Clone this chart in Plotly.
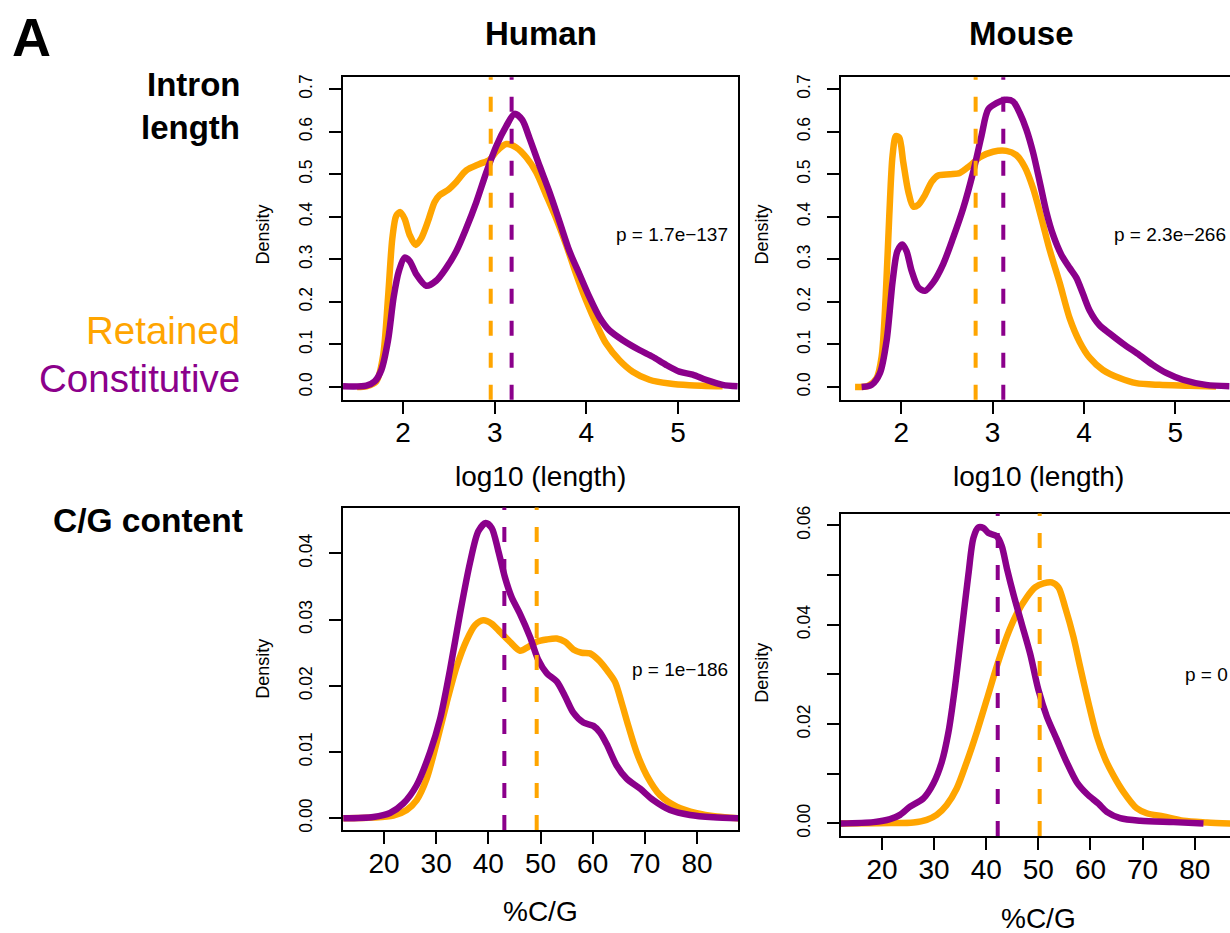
import plotly.graph_objects as go

W, H = 1230, 933
ORANGE = "#FFA500"
PURPLE = "#8B008B"
FONT = "Liberation Sans, Arial, Helvetica, sans-serif"

# ---------------- data ----------------
# Human, intron length (log10)
hl_ret_x = [1.50, 1.60, 1.709, 1.782, 1.837, 1.884, 1.927, 1.971, 2.018, 2.073, 2.138, 2.200, 2.272, 2.345, 2.400,
            2.490, 2.581, 2.690, 2.835, 2.944, 3.017, 3.126, 3.235, 3.344, 3.453, 3.562, 3.671, 3.780, 3.889,
            3.998, 4.107, 4.216, 4.361, 4.506, 4.688, 4.906, 5.124, 5.487]
hl_ret_y = [0.0, 0.0015, 0.013, 0.072, 0.211, 0.350, 0.403, 0.411, 0.395, 0.357, 0.334, 0.350, 0.389, 0.435, 0.451,
            0.463, 0.482, 0.509, 0.524, 0.534, 0.553, 0.571, 0.563, 0.540, 0.505, 0.451, 0.396, 0.334, 0.265,
            0.203, 0.149, 0.102, 0.063, 0.036, 0.017, 0.008, 0.004, 0.0015]
hl_con_x = [1.346, 1.600, 1.691, 1.764, 1.837, 1.898, 1.956, 2.018, 2.073, 2.145, 2.254, 2.363, 2.472, 2.581, 2.690,
            2.799, 2.908, 3.017, 3.126, 3.217, 3.300, 3.380, 3.489, 3.598, 3.707, 3.816, 3.925, 4.034, 4.143,
            4.252, 4.398, 4.579, 4.724, 4.869, 5.015, 5.160, 5.305, 5.487, 5.650]
hl_con_y = [0.0015, 0.003, 0.013, 0.040, 0.110, 0.211, 0.273, 0.304, 0.296, 0.265, 0.238, 0.250, 0.280, 0.319, 0.373,
            0.434, 0.504, 0.566, 0.613, 0.642, 0.628, 0.585, 0.520, 0.458, 0.389, 0.319, 0.265, 0.211, 0.164,
            0.133, 0.110, 0.087, 0.071, 0.052, 0.036, 0.029, 0.017, 0.005, 0.0015]
hl_ret_med, hl_con_med = 2.957, 3.185

# Mouse, intron length (log10)
ml_ret_x = [1.494, 1.639, 1.730, 1.785, 1.829, 1.869, 1.905, 1.942, 1.978, 2.022, 2.077, 2.131, 2.186, 2.259, 2.332,
            2.404, 2.532, 2.641, 2.750, 2.860, 3.005, 3.151, 3.260, 3.352, 3.443, 3.534, 3.625, 3.734, 3.843,
            3.953, 4.062, 4.208, 4.390, 4.572, 4.827, 5.155, 5.446]
ml_ret_y = [0.0, 0.003, 0.021, 0.071, 0.211, 0.405, 0.545, 0.590, 0.586, 0.528, 0.459, 0.424, 0.428, 0.451, 0.482,
            0.497, 0.500, 0.503, 0.520, 0.540, 0.553, 0.555, 0.545, 0.517, 0.467, 0.397, 0.322, 0.245, 0.162,
            0.106, 0.069, 0.040, 0.021, 0.009, 0.005, 0.003, 0.001]
ml_con_x = [1.566, 1.675, 1.767, 1.840, 1.906, 1.957, 2.011, 2.058, 2.113, 2.186, 2.259, 2.350, 2.459, 2.568, 2.678,
            2.787, 2.878, 2.951, 3.042, 3.151, 3.224, 3.297, 3.370, 3.443, 3.516, 3.588, 3.661, 3.752, 3.843,
            3.916, 3.989, 4.062, 4.171, 4.280, 4.426, 4.608, 4.754, 4.900, 5.082, 5.337, 5.592]
ml_con_y = [0.0, 0.005, 0.033, 0.110, 0.250, 0.319, 0.335, 0.319, 0.273, 0.234, 0.226, 0.246, 0.289, 0.351, 0.420,
            0.505, 0.590, 0.652, 0.667, 0.675, 0.671, 0.644, 0.605, 0.551, 0.482, 0.412, 0.358, 0.311, 0.280,
            0.257, 0.219, 0.180, 0.145, 0.126, 0.102, 0.075, 0.052, 0.033, 0.017, 0.005, 0.002]
ml_ret_med, ml_con_med = 2.814, 3.117

# Human, %C/G
hg_ret_x = [12.20, 17.96, 21.79, 24.35, 26.26, 28.18, 30.10, 32.01, 33.93, 35.85, 37.44, 39.04, 40.64, 42.24, 44.15,
            46.07, 47.67, 49.27, 51.18, 53.10, 54.70, 56.29, 57.89, 59.49, 61.09, 62.68, 64.28, 65.56, 66.84,
            68.43, 70.35, 72.91, 76.10, 79.94, 83.77, 87.92]
hg_ret_y = [0.0, 0.0001, 0.0004, 0.00125, 0.00274, 0.00598, 0.01146, 0.01743, 0.02291, 0.0269, 0.02914, 0.02989,
            0.02939, 0.02814, 0.02665, 0.0253, 0.0259, 0.02665, 0.0270, 0.02715, 0.02665, 0.0255, 0.0250, 0.0249,
            0.02391, 0.02242, 0.02060, 0.01743, 0.01395, 0.00996, 0.00648, 0.00349, 0.00174, 0.00075, 0.00025, 0.0]
hg_con_x = [12.20, 17.96, 21.15, 23.71, 26.26, 28.82, 30.73, 32.65, 34.57, 36.49, 38.08, 39.49, 40.64, 41.92, 43.19,
            44.47, 46.07, 47.99, 49.58, 51.18, 53.10, 54.70, 56.29, 58.21, 60.13, 61.41, 62.68, 64.60, 66.52,
            69.07, 71.63, 74.82, 78.66, 83.13, 87.92]
hg_con_y = [0.0, 0.0002, 0.0008, 0.00224, 0.00498, 0.00996, 0.01494, 0.02242, 0.0309, 0.03861, 0.04334, 0.04458,
            0.04384, 0.04035, 0.03636, 0.03337, 0.03088, 0.0274, 0.02391, 0.02192, 0.02067, 0.01843, 0.01594,
            0.01445, 0.01395, 0.01295, 0.0112, 0.00797, 0.00598, 0.00448, 0.00274, 0.00125, 0.0005, 0.00015, 0.0]
hg_ret_med, hg_con_med = 49.27, 43.07

# Mouse, %C/G
mg_ret_x = [12.07, 21.54, 26.02, 28.58, 30.50, 32.41, 34.33, 36.25, 38.17, 40.09, 42.01, 43.93, 45.85, 47.77, 49.37,
            50.97, 52.57, 53.85, 55.13, 56.72, 58.00, 59.60, 61.20, 62.80, 64.40, 66.32, 68.88, 70.80, 74.00,
            77.84, 82.32, 86.80]
mg_ret_y = [0.0, 0.00007, 0.0002, 0.00073, 0.00173, 0.00372, 0.00704, 0.01235, 0.01832, 0.0249, 0.03159, 0.03757,
            0.04221, 0.04553, 0.04752, 0.04832, 0.04852, 0.04752, 0.04354, 0.03757, 0.03159, 0.02429, 0.01766,
            0.01301, 0.00969, 0.00637, 0.00305, 0.00205, 0.00139, 0.00053, 0.0002, 0.0]
mg_con_x = [12.07, 18.34, 21.54, 23.46, 25.38, 27.94, 29.86, 31.46, 32.74, 34.02, 35.30, 36.58, 37.54, 38.50, 39.46,
            40.42, 42.02, 42.98, 43.94, 45.22, 46.82, 48.42, 50.01, 51.61, 53.53, 55.45, 57.37, 59.29, 61.53,
            63.13, 65.69, 69.53, 75.93, 81.68]
mg_con_y = [0.0, 0.00027, 0.00086, 0.00173, 0.00338, 0.00504, 0.00803, 0.01234, 0.01832, 0.02761, 0.03889, 0.05018,
            0.05749, 0.0596, 0.05947, 0.05847, 0.05781, 0.05582, 0.05144, 0.04613, 0.04015, 0.03418, 0.02688,
            0.02157, 0.01692, 0.01228, 0.0083, 0.00597, 0.00398, 0.00232, 0.00106, 0.00053, 0.00027, 0.0]
mg_ret_med, mg_con_med = 50.25, 42.2

p_values = ["p = 1.7e\u2212137", "p = 2.3e\u2212266", "p = 1e\u2212186", "p = 0"]
col_titles = ["Human", "Mouse"]
x_titles = ["log10 (length)", "log10 (length)", "%C/G", "%C/G"]
len_ticks = [2, 3, 4, 5]
gc_ticks = [20, 30, 40, 50, 60, 70, 80]
len_yticks = [0.0, 0.1, 0.2, 0.3, 0.4, 0.5, 0.6, 0.7]
hg_yticks = [0.0, 0.01, 0.02, 0.03, 0.04]
mg_yticks = [0.0, 0.01, 0.02, 0.03, 0.04, 0.05, 0.06]
mg_ytext = ["0.00", "", "0.02", "", "0.04", "", "0.06"]

# ---------------- layout helpers ----------------
def px_x(p):
    return p / W

def px_y(p):
    return 1 - p / H

panels = [
    # (suffix, x-domain px, y-domain px, xrange, yrange, mirror_y)
    ("", (343, 738), (70, 396), [1.3455, 5.6545], [-0.030, 0.728], True),
    ("2", (841, 1230), (70, 396), [1.340, 5.599], [-0.030, 0.728], False),
    ("3", (343, 738), (505, 831), [12.14, 87.86], [-0.00179, 0.04692], True),
    ("4", (841, 1230), (511, 837), [12.13, 86.77], [-0.00253, 0.06239], False),
]
series = [
    (hl_ret_x, hl_ret_y, hl_con_x, hl_con_y, hl_ret_med, hl_con_med),
    (ml_ret_x, ml_ret_y, ml_con_x, ml_con_y, ml_ret_med, ml_con_med),
    (hg_ret_x, hg_ret_y, hg_con_x, hg_con_y, hg_ret_med, hg_con_med),
    (mg_ret_x, mg_ret_y, mg_con_x, mg_con_y, mg_ret_med, mg_con_med),
]

fig = go.Figure()
layout = dict(width=W, height=H, autosize=False, margin=dict(l=0, r=0, t=0, b=0),
              paper_bgcolor="white", plot_bgcolor="white", showlegend=False,
              font=dict(family=FONT, color="black"))
shapes = []
annotations = []

for i, (suf, (x0, x1), (y0, y1), xr, yr, mir) in enumerate(panels):
    rx, ry, cx, cy, rmed, cmed = series[i]
    xa, ya = "x" + suf, "y" + suf
    fig.add_trace(go.Scatter(x=rx, y=ry, mode="lines", xaxis=xa, yaxis=ya,
                             line=dict(color=ORANGE, width=6.5, shape="spline", smoothing=0.8)))
    fig.add_trace(go.Scatter(x=cx, y=cy, mode="lines", xaxis=xa, yaxis=ya,
                             line=dict(color=PURPLE, width=6.5, shape="spline", smoothing=0.8)))
    for med, col in ((rmed, ORANGE), (cmed, PURPLE)):
        shapes.append(dict(type="line", xref=xa, yref=ya + " domain", x0=med, x1=med, y0=0, y1=1,
                           line=dict(color=col, width=4, dash="15px,17px"), layer="above"))
    if i < 2:
        xt = dict(tickvals=len_ticks, ticktext=[str(t) for t in len_ticks])
        yt = dict(tickvals=len_yticks, ticktext=["%.1f" % v for v in len_yticks])
    elif i == 2:
        xt = dict(tickvals=gc_ticks, ticktext=[str(t) for t in gc_ticks])
        yt = dict(tickvals=hg_yticks, ticktext=["%.2f" % v for v in hg_yticks])
    else:
        xt = dict(tickvals=gc_ticks, ticktext=[str(t) for t in gc_ticks])
        yt = dict(tickvals=mg_yticks, ticktext=mg_ytext)
    xkey = "xaxis" + suf
    ykey = "yaxis" + suf
    layout[xkey] = dict(domain=[px_x(x0), px_x(x1)], range=xr, anchor=ya, showgrid=False, zeroline=False,
                        showline=True, linecolor="black", linewidth=2, mirror=True,
                        ticks="outside", ticklen=12, tickwidth=2, tickcolor="black",
                        tickfont=dict(size=28, family=FONT), ticklabelstandoff=-5, tickmode="array", **xt)
    layout[ykey] = dict(domain=[px_y(y1), px_y(y0)], range=yr, anchor=xa, showgrid=False, zeroline=False,
                        showline=True, linecolor="black", linewidth=2, mirror=mir,
                        ticks="outside", ticklen=12, tickwidth=2, tickcolor="black", tickangle=-90,
                        tickfont=dict(size=17.5, family=FONT), ticklabelstandoff=10, tickmode="array", **yt)

def ann(text, xpx, ypx, size, color="black", bold=False, xanchor="center", yanchor="middle", angle=0):
    t = "<b>%s</b>" % text if bold else text
    annotations.append(dict(text=t, x=px_x(xpx), y=px_y(ypx), xref="paper", yref="paper", showarrow=False,
                            xanchor=xanchor, yanchor=yanchor, textangle=angle,
                            font=dict(size=size, color=color, family=FONT)))

# titles and labels
ann("A", 31, 29, 54, bold=True)
ann(col_titles[0], 541, 26, 33, bold=True)
ann(col_titles[1], 1021, 26, 33, bold=True)
ann("Intron", 242, 77, 33, bold=True, xanchor="right")
ann("length", 242, 121, 33, bold=True, xanchor="right")
ann("Retained", 242, 326, 38.5, color=ORANGE, xanchor="right")
ann("Constitutive", 242, 375, 38.5, color=PURPLE, xanchor="right")
ann("C/G content", 245, 518, 33.5, bold=True, xanchor="right")

# axis titles
ann(x_titles[0], 540, 474, 28)
ann(x_titles[1], 1038, 474, 28)
ann(x_titles[2], 540, 913, 28)
ann(x_titles[3], 1038, 920, 28)
ann("Density", 263, 229, 18, angle=-90)
ann("Density", 762, 229, 18, angle=-90)
ann("Density", 263, 668, 18, angle=-90)
ann("Density", 762, 672, 18, angle=-90)

# p-values
ann(p_values[0], 672, 229, 19)
ann(p_values[1], 1170, 229, 19)
ann(p_values[2], 680, 669, 19)
ann(p_values[3], 1206, 674, 19)

layout["shapes"] = shapes
layout["annotations"] = annotations
fig.update_layout(**layout)
fig.write_html("out.html")
